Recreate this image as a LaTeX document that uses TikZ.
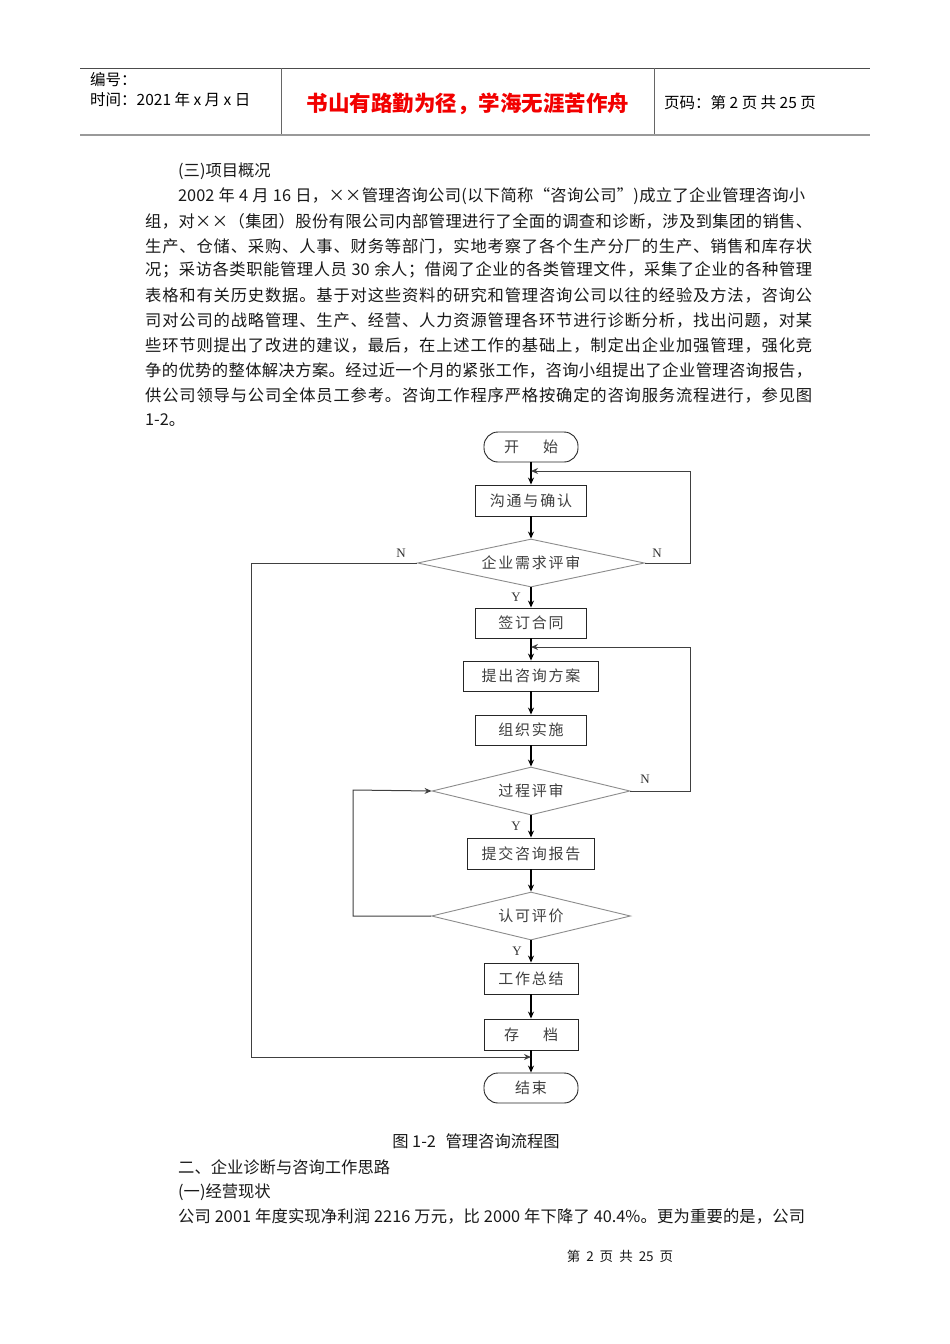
\documentclass[tikz,border=0pt]{standalone}
\usepackage{fontspec}
\setmainfont{Noto Sans CJK SC}
\newfontfamily\cjkfc[LetterSpace=12]{Noto Sans CJK SC}
\newfontfamily\serifl{Liberation Serif}
\usetikzlibrary{shapes.geometric,arrows.meta}
% own character class for CJK so that justified lines can stretch
\newcount\cjkcc
\newcommand{\setcjkrange}[2]{\cjkcc=#1\relax\loop\XeTeXcharclass\cjkcc=100\relax\advance\cjkcc by 1\relax\ifnum\cjkcc<#2\repeat}
\setcjkrange{"4E00}{"A000}
\setcjkrange{"3000}{"3040}
\setcjkrange{"FF00}{"FFF0}
\XeTeXcharclass"201C=100
\XeTeXcharclass"201D=100
\XeTeXcharclass"00D7=100
\newcommand{\cjkglue}{\hskip 0pt plus 1pt minus 0.2pt\relax}
\XeTeXinterchartoks 100 100 {\cjkglue}
\XeTeXinterchartoks 0 100 {\cjkglue}
\XeTeXinterchartoks 100 0 {\cjkglue}
\newcommand{\jline}[2]{\hbox to #1{\XeTeXinterchartokenstate=1 #2}}
\begin{document}
\begin{tikzpicture}[x=1pt,y=-1pt,
  body/.style={anchor=west,inner sep=0pt,text=black!90,font=\fontsize{16.3}{18}\selectfont},
  hdr/.style={anchor=west,inner sep=0pt,text=black,font=\fontsize{15.5}{17}\selectfont},
  proc/.style={draw=black!85,line width=0.9pt,minimum height=31pt,inner sep=0pt,text=black!75,font=\cjkfc\fontsize{15}{16}\selectfont},
  term/.style={proc,rounded corners=14pt,minimum width=94pt,minimum height=30pt},
  decide/.style={diamond,draw=black!45,line width=0.9pt,inner sep=0pt,minimum height=48pt,text=black!75,font=\cjkfc\fontsize{15}{16}\selectfont},
  conn/.style={draw=black,line width=1.1pt,-{Stealth[length=7pt,width=6pt]}},
  back/.style={draw=black!75,line width=1pt,-{Stealth[length=7pt,width=6pt]}},
  yn/.style={inner sep=0pt,text=black!80,font=\serifl\fontsize{13}{14}\selectfont}
]
\useasboundingbox[fill=white] (0,0) rectangle (950,1344);

% ---------- header ----------
\coordinate (hTL) at (80,68);
\coordinate (hTR) at (870,68);
\coordinate (hBL) at (80,135);
\coordinate (hBR) at (870,135);
\coordinate (s1t) at (281,68);
\coordinate (s1b) at (281,134);
\coordinate (s2t) at (654,68);
\coordinate (s2b) at (654,134);
\draw[black!70,line width=1pt] (hTL) -- (hTR);
\draw[black!40,line width=2.6pt] (hBL) -- (hBR);
\draw[black!60,line width=1pt] (s1t) -- (s1b);
\draw[black!60,line width=1pt] (s2t) -- (s2b);
\node[hdr] (h1) at (90,80) {编号：};
\node[hdr] (h2) at (90,100) {时间：2021 年 x 月 x 日};
\node[inner sep=0pt,text=red!95!black,font=\bfseries\fontsize{21.5}{23}\selectfont] (motto) at (468,104) {书山有路勤为径，学海无涯苦作舟};
\node[hdr] (h3) at (664,103) {页码：第 2 页 共 25 页};

% ---------- body text ----------
\node[body] (t0) at (178,171) {(三)项目概况};
\node[body] (t1) at (178,196) {\jline{627pt}{2002 年 4 月 16 日，××管理咨询公司(以下简称“咨询公司”)成立了企业管理咨询小}};
\node[body] (t2) at (145,221) {\jline{667pt}{组，对××（集团）股份有限公司内部管理进行了全面的调查和诊断，涉及到集团的销售、}};
\node[body] (t3) at (145,246) {\jline{667pt}{生产、仓储、采购、人事、财务等部门，实地考察了各个生产分厂的生产、销售和库存状}};
\node[body] (t4) at (145,270) {\jline{667pt}{况；采访各类职能管理人员 30 余人；借阅了企业的各类管理文件，采集了企业的各种管理}};
\node[body] (t5) at (145,295) {\jline{667pt}{表格和有关历史数据。基于对这些资料的研究和管理咨询公司以往的经验及方法，咨询公}};
\node[body] (t6) at (145,320) {\jline{667pt}{司对公司的战略管理、生产、经营、人力资源管理各环节进行诊断分析，找出问题，对某}};
\node[body] (t7) at (145,345) {\jline{667pt}{些环节则提出了改进的建议，最后，在上述工作的基础上，制定出企业加强管理，强化竞}};
\node[body] (t8) at (145,370) {\jline{667pt}{争的优势的整体解决方案。经过近一个月的紧张工作，咨询小组提出了企业管理咨询报告，}};
\node[body] (t9) at (145,395) {\jline{667pt}{供公司领导与公司全体员工参考。咨询工作程序严格按确定的咨询服务流程进行，参见图}};
\node[body] (t10) at (145,420) {1-2。};

% ---------- flowchart ----------
\node[term] (start) at (531,447) {开\hspace{24pt}始};
\node[proc,minimum width=111pt] (b1) at (531,500.5) {沟通与确认};
\node[decide,minimum width=227pt,aspect=4.7] (d1) at (531,563) {企业需求评审};
\node[proc,minimum width=111pt,minimum height=30pt] (b2) at (531,623) {签订合同};
\node[proc,minimum width=135pt,minimum height=30pt] (b3) at (531,676) {提出咨询方案};
\node[proc,minimum width=111pt,minimum height=30pt] (b4) at (531,730) {组织实施};
\node[decide,minimum width=198pt,aspect=4.1] (d2) at (531,791) {过程评审};
\node[proc,minimum width=127pt] (b5) at (531,853.5) {提交咨询报告};
\node[decide,minimum width=199pt,aspect=4.1] (d3) at (531,916) {认可评价};
\node[proc,minimum width=94pt] (b6) at (531,978.5) {工作总结};
\node[proc,minimum width=94pt] (b7) at (531,1034.5) {存\hspace{24pt}档};
\node[term] (end) at (531,1088) {结束};

\coordinate (j1) at (531,471);
\coordinate (r1) at (690,471);
\coordinate (j2) at (531,647);
\coordinate (r2) at (690,647);
\coordinate (l3) at (353,790);
\coordinate (l1) at (251,1057);
\coordinate (j5) at (531,1057);

\draw[conn] (start) -- (b1);
\draw[conn] (b1) -- (d1);
\draw[conn] (d1) -- (b2);
\draw[conn] (b2) -- (b3);
\draw[conn] (b3) -- (b4);
\draw[conn] (b4) -- (d2);
\draw[conn] (d2) -- (b5);
\draw[conn] (b5) -- (d3);
\draw[conn] (d3) -- (b6);
\draw[conn] (b6) -- (b7);
\draw[conn] (b7) -- (end);

\draw[back] (d1.east) -| (r1) -- (j1);
\draw[back] (d2.east) -| (r2) -- (j2);
\draw[back] (d3.west) -| (l3) -- (d2.west);
\draw[back] (d1.west) -| (l1) -- (j5);

\node[yn] (n1) at (401,553) {N};
\node[yn] (n2) at (657,553) {N};
\node[yn] (y1) at (516,597) {Y};
\node[yn] (n3) at (645,779) {N};
\node[yn] (y2) at (516,826) {Y};
\node[yn] (y3) at (517,951) {Y};

% ---------- lower text ----------
\node[inner sep=0pt,text=black!90,font=\fontsize{16.3}{18}\selectfont] (cap) at (476,1141) {图 1-2\hspace{6pt} 管理咨询流程图};
\node[body] (u1) at (178,1167) {二、企业诊断与咨询工作思路};
\node[body] (u2) at (178,1192) {(一)经营现状};
\node[body] (u3) at (178,1216) {\jline{627pt}{公司 2001 年度实现净利润 2216 万元，比 2000 年下降了 40.4\%。更为重要的是，公司}};
\node[inner sep=0pt,text=black!90,font=\fontsize{13.5}{14}\selectfont] (foot) at (620,1256) {第\hspace{6pt}2\hspace{6pt}页\hspace{6pt}共\hspace{6pt}25\hspace{6pt}页};
\end{tikzpicture}
\end{document}
